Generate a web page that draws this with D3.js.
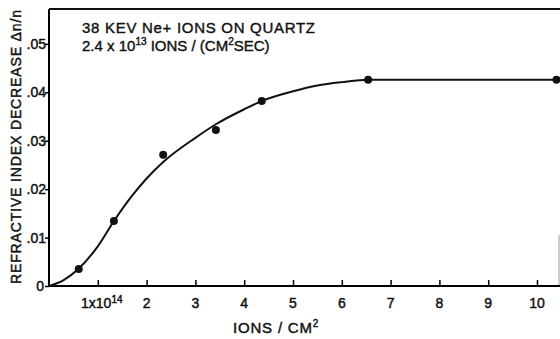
<!DOCTYPE html>
<html>
<head>
<meta charset="utf-8">
<script src="https://cdn.jsdelivr.net/npm/d3@7"></script>
<style>
  body { margin: 0; background: #fff; }
  svg { display: block; }
  text { font-family: "Liberation Sans", Arial, sans-serif; fill: #111; }
</style>
</head>
<body>
<div id="outlet"></div>
<script>
// measured points (x in 1e14 ions/cm2, y = delta n / n)
const pointX = [0.61, 1.33, 2.34, 3.42, 4.36, 6.54, 10.4];
const pointY = [0.0035, 0.0134, 0.0271, 0.0322, 0.0382, 0.0426, 0.0426];

// hand-drawn fit curve
const curveX = [0, 0.3, 0.6, 1.0, 1.33, 1.7, 2.0, 2.34, 3.0, 3.42, 4.0, 4.36, 5.0, 5.5, 6.0, 6.54, 8.0, 10.4];
const curveY = [0, 0.0012, 0.0035, 0.0082, 0.0134, 0.0186, 0.0222, 0.0256, 0.0306, 0.0334, 0.0365, 0.0382, 0.0402, 0.0414, 0.0421, 0.0426, 0.0426, 0.0426];

const xTicks = [1, 2, 3, 4, 5, 6, 7, 8, 9, 10];
const yTicks = [0, 0.01, 0.02, 0.03, 0.04, 0.05];
const yTickLabels = ["0", ".01", ".02", ".03", ".04", ".05"];

const width = 560, height = 339;
const marginLeft = 49, marginTop = 9, marginBottom = 53;

const x = d3.scaleLinear().domain([0, 10.45]).range([marginLeft, marginLeft + 10.45 * 48.8]);
const y = d3.scaleLinear().domain([0, 0.0572]).range([height - marginBottom, marginTop]);

const svg = d3.select("#outlet").append("svg")
  .attr("width", width)
  .attr("height", height)
  .attr("viewBox", [0, 0, width, height]);

// frame: top line, faint right edge near the bottom
svg.append("line")
  .attr("x1", marginLeft).attr("x2", width)
  .attr("y1", y(0.0572)).attr("y2", y(0.0572))
  .attr("stroke", "#111").attr("stroke-width", 2);
svg.append("line")
  .attr("x1", 559).attr("x2", 559)
  .attr("y1", y(0.0105)).attr("y2", y(0))
  .attr("stroke", "#999").attr("stroke-width", 1);

// x axis, ticks pointing up into the plot
const xAxis = d3.axisBottom(x).tickValues(xTicks).tickSize(-6).tickFormat("");
svg.append("g")
  .attr("transform", `translate(0,${y(0)})`)
  .call(xAxis)
  .call(g => g.select(".domain").attr("d", `M${marginLeft},0H${width}`).attr("stroke-width", 2))
  .call(g => g.selectAll(".tick line").attr("stroke-width", 1.5));

// x tick labels
const xl = svg.append("g").attr("font-size", 14);
xTicks.forEach(v => {
  const t = xl.append("text")
    .attr("x", v === 1 ? x(v) + 4 : x(v))
    .attr("y", y(0) + 22)
    .attr("text-anchor", "middle")
    .attr("stroke", "#111").attr("stroke-width", 0.45);
  if (v === 1) {
    t.append("tspan").text("1x10");
    t.append("tspan").attr("font-size", 10).attr("dy", -5).text("14");
  } else {
    t.text(v);
  }
});

// y axis, ticks pointing out
const yAxis = d3.axisLeft(y).tickValues(yTicks).tickSize(4).tickFormat("");
svg.append("g")
  .attr("transform", `translate(${marginLeft},0)`)
  .call(yAxis)
  .call(g => g.select(".domain").attr("d", `M0,${y(0)}V${y(0.0572)}`).attr("stroke-width", 2))
  .call(g => g.selectAll(".tick line").attr("stroke-width", 1.5));

svg.append("g").attr("font-size", 14)
  .selectAll("text")
  .data(yTicks)
  .join("text")
  .attr("x", (d, i) => i === 0 ? marginLeft - 5 : marginLeft - 3)
  .attr("y", d => y(d) + 5)
  .attr("text-anchor", "end")
  .attr("stroke", "#111").attr("stroke-width", 0.45)
  .text((d, i) => yTickLabels[i]);

// axis titles
svg.append("text")
  .attr("x", 233).attr("y", 333)
  .attr("font-size", 15)
  .attr("stroke", "#111").attr("stroke-width", 0.45)
  .call(t => {
    t.append("tspan").attr("textLength", 79).text("IONS / CM");
    t.append("tspan").attr("font-size", 10).attr("dy", -6).text("2");
  });

svg.append("text")
  .attr("transform", "translate(21,147) rotate(-90)")
  .attr("text-anchor", "middle")
  .attr("font-size", 14)
  .attr("stroke", "#111").attr("stroke-width", 0.45)
  .attr("textLength", 274)
  .text("REFRACTIVE INDEX DECREASE  \u0394n/n");

// annotation
const note = svg.append("g").attr("font-size", 15)
  .attr("stroke", "#111").attr("stroke-width", 0.4);
note.append("text").attr("x", 82).attr("y", 33)
  .attr("textLength", 233)
  .text("38 KEV Ne+ IONS ON QUARTZ");
note.append("text").attr("x", 82).attr("y", 51)
  .call(t => {
    t.append("tspan").text("2.4 x 10");
    t.append("tspan").attr("font-size", 10).attr("dy", -6).text("13");
    t.append("tspan").attr("dy", 6).text(" IONS / (CM");
    t.append("tspan").attr("font-size", 10).attr("dy", -6).text("2");
    t.append("tspan").attr("dy", 6).text("SEC)");
  });

// fit curve
const line = d3.line()
  .curve(d3.curveMonotoneX)
  .x(i => x(curveX[i]))
  .y(i => y(curveY[i]));

svg.append("path")
  .attr("fill", "none")
  .attr("stroke", "#111")
  .attr("stroke-width", 2)
  .attr("d", line(d3.range(curveX.length)));

// data points
svg.append("g")
  .selectAll("circle")
  .data(d3.range(pointX.length))
  .join("circle")
  .attr("cx", i => x(pointX[i]))
  .attr("cy", i => y(pointY[i]))
  .attr("r", 4)
  .attr("fill", "#111");
</script>
</body>
</html>
